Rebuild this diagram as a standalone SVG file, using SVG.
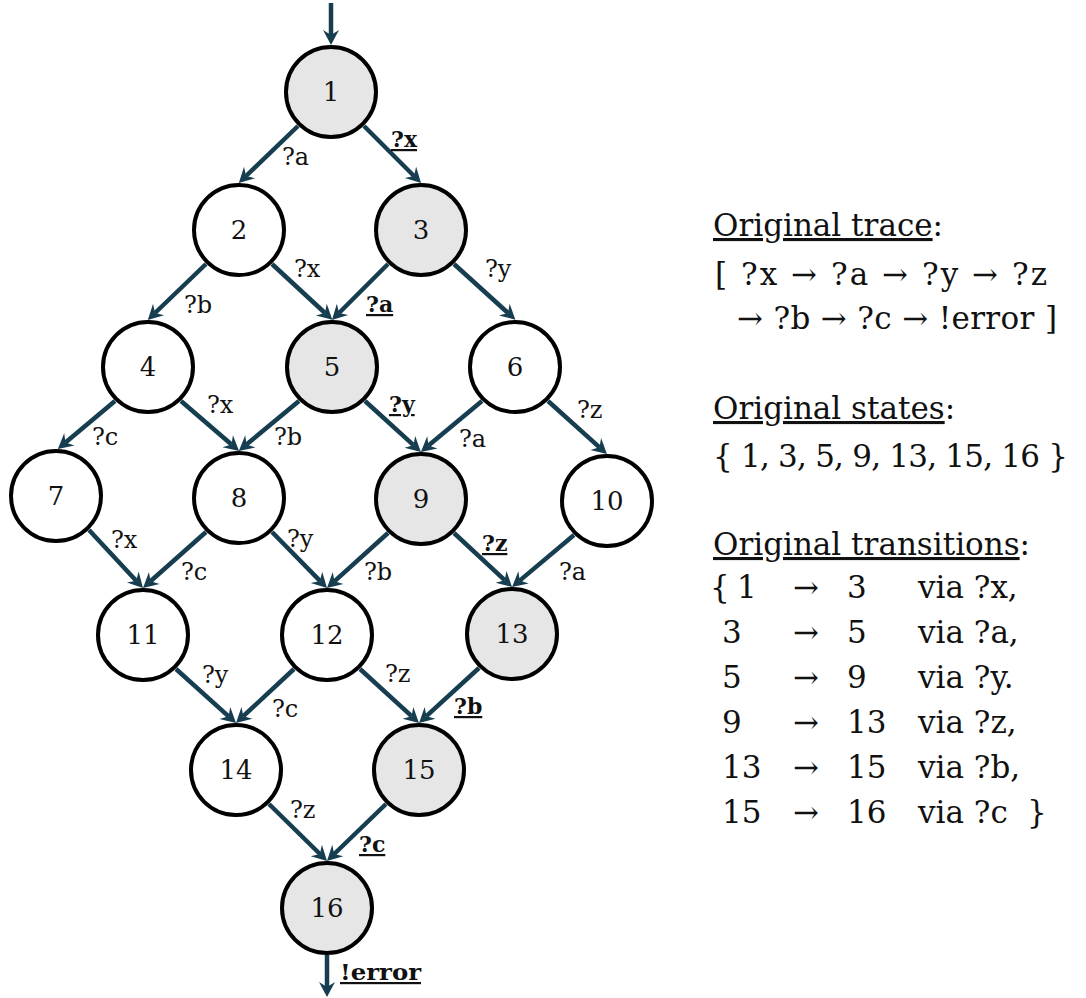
<svg xmlns="http://www.w3.org/2000/svg" width="1086" height="998" viewBox="0 0 1086 998">
<defs>
<marker id="ah" markerUnits="userSpaceOnUse" markerWidth="30" markerHeight="30" viewBox="-15 -15 30 30" refX="0" refY="0" orient="auto" overflow="visible">
<path d="M-5,-8 L10,0 L-5,8 L0,0 Z" fill="#173e50"/>
</marker>
<style>
.e{fill:none;stroke:#173e50;stroke-width:4.5;marker-end:url(#ah)}
.n circle{stroke:#000;stroke-width:4;fill:#fff}
.n.h circle{fill:#e6e6e6}
.n text{font-family:"DejaVu Serif","Liberation Serif",serif;font-size:26px;text-anchor:middle;fill:#111}
.l{font-family:"DejaVu Serif","Liberation Serif",serif;font-size:24px;fill:#111}
.lb{font-family:"DejaVu Serif","Liberation Serif",serif;font-size:22px;font-weight:bold;fill:#111;text-decoration:underline}
.r{font-family:"DejaVu Serif","Liberation Serif",serif;font-size:31px;fill:#111}
</style>
</defs>
<rect width="1086" height="998" fill="#fff"/>
<g id="connectors">
<path class="e" d="M331,3 L331,35"/>
<path class="e" d="M298,126 L246,176"/>
<path class="e" d="M364,126 L414,176"/>
<path class="e" d="M206,264 L155,313"/>
<path class="e" d="M272,264 L325,313"/>
<path class="e" d="M388,264 L339,313"/>
<path class="e" d="M454,264 L508,313"/>
<path class="e" d="M115,401 L65.5,442.5"/>
<path class="e" d="M181,401 L231.5,444.5"/>
<path class="e" d="M299,401 L246.5,444.5"/>
<path class="e" d="M365,401 L413.5,445.2"/>
<path class="e" d="M482,401 L428.5,445.5"/>
<path class="e" d="M548,401 L599.5,447.3"/>
<path class="e" d="M89,530 L136.2,580.7"/>
<path class="e" d="M206,532 L150.5,581.3"/>
<path class="e" d="M272,532 L320,580.9"/>
<path class="e" d="M388,533 L334.4,581.3"/>
<path class="e" d="M454,533 L504.7,580.2"/>
<path class="e" d="M574,535 L519.7,580.6"/>
<path class="e" d="M176,669 L228.6,716.3"/>
<path class="e" d="M294,669 L243.3,716.2"/>
<path class="e" d="M360,669 L411.6,716.2"/>
<path class="e" d="M479,668 L426.4,716.2"/>
<path class="e" d="M269,804 L319.9,854"/>
<path class="e" d="M386,804 L334.2,854"/>
<path class="e" d="M327,955 L327,987"/>
<text class="l" x="282" y="165">?a</text>
<text class="lb" x="391" y="147">?x</text>
<text class="l" x="184" y="313">?b</text>
<text class="l" x="294" y="277">?x</text>
<text class="lb" x="366" y="312">?a</text>
<text class="l" x="485" y="277">?y</text>
<text class="l" x="92" y="445">?c</text>
<text class="l" x="207" y="413">?x</text>
<text class="l" x="274" y="445">?b</text>
<text class="lb" x="389" y="412">?y</text>
<text class="l" x="459" y="447">?a</text>
<text class="l" x="577" y="418">?z</text>
<text class="l" x="111" y="548">?x</text>
<text class="l" x="181" y="580">?c</text>
<text class="l" x="287" y="547">?y</text>
<text class="l" x="364" y="580">?b</text>
<text class="lb" x="482" y="551">?z</text>
<text class="l" x="559" y="580">?a</text>
<text class="l" x="202" y="683">?y</text>
<text class="l" x="272" y="717">?c</text>
<text class="l" x="385" y="682">?z</text>
<text class="lb" x="454" y="714">?b</text>
<text class="l" x="290" y="818">?z</text>
<text class="lb" x="359" y="852">?c</text>
<text class="lb" x="340" y="980" textLength="81" lengthAdjust="spacingAndGlyphs">!error</text>
</g>
<g id="node1" class="n h"><circle cx="331" cy="92" r="45"/><text x="331" y="101">1</text></g>
<g id="node2" class="n"><circle cx="239" cy="230" r="45"/><text x="239" y="239">2</text></g>
<g id="node3" class="n h"><circle cx="421" cy="230" r="45"/><text x="421" y="239">3</text></g>
<g id="node4" class="n"><circle cx="148" cy="367" r="45"/><text x="148" y="376">4</text></g>
<g id="node5" class="n h"><circle cx="332" cy="367" r="45"/><text x="332" y="376">5</text></g>
<g id="node6" class="n"><circle cx="515" cy="367" r="45"/><text x="515" y="376">6</text></g>
<g id="node7" class="n"><circle cx="56" cy="496" r="45"/><text x="56" y="505">7</text></g>
<g id="node8" class="n"><circle cx="239" cy="498" r="45"/><text x="239" y="507">8</text></g>
<g id="node9" class="n h"><circle cx="421" cy="499" r="45"/><text x="421" y="508">9</text></g>
<g id="node10" class="n"><circle cx="607" cy="501" r="45"/><text x="607" y="510">10</text></g>
<g id="node11" class="n"><circle cx="143" cy="635" r="45"/><text x="143" y="644">11</text></g>
<g id="node12" class="n"><circle cx="327" cy="635" r="45"/><text x="327" y="644">12</text></g>
<g id="node13" class="n h"><circle cx="512" cy="634" r="45"/><text x="512" y="643">13</text></g>
<g id="node14" class="n"><circle cx="236" cy="770" r="45"/><text x="236" y="779">14</text></g>
<g id="node15" class="n h"><circle cx="419" cy="770" r="45"/><text x="419" y="779">15</text></g>
<g id="node16" class="n h"><circle cx="327" cy="908" r="45"/><text x="327" y="917">16</text></g>
<g id="trace">
<text class="r" x="713" y="236"><tspan text-decoration="underline">Original trace</tspan>:</text>
<text class="r" x="715" y="285" textLength="332" lengthAdjust="spacing">[ ?x → ?a → ?y → ?z</text>
<text class="r" x="737" y="329" textLength="320" lengthAdjust="spacing">→ ?b → ?c → !error ]</text>
</g>
<g id="states">
<text class="r" x="713" y="419"><tspan text-decoration="underline">Original states</tspan>:</text>
<text class="r" x="713" y="467" textLength="355" lengthAdjust="spacing">{ 1, 3, 5, 9, 13, 15, 16 }</text>
</g>
<g id="transitions">
<text class="r" x="713" y="555"><tspan text-decoration="underline">Original transitions</tspan>:</text>
<text class="r" x="710" y="598">{</text>
<text class="r" x="737" y="598">1</text>
<text class="r" x="722" y="643">3</text>
<text class="r" x="722" y="688">5</text>
<text class="r" x="722" y="733">9</text>
<text class="r" x="722" y="778">13</text>
<text class="r" x="722" y="823">15</text>
<text class="r" x="793" y="598">→</text>
<text class="r" x="793" y="643">→</text>
<text class="r" x="793" y="688">→</text>
<text class="r" x="793" y="733">→</text>
<text class="r" x="793" y="778">→</text>
<text class="r" x="793" y="823">→</text>
<text class="r" x="847" y="598">3</text>
<text class="r" x="847" y="643">5</text>
<text class="r" x="847" y="688">9</text>
<text class="r" x="847" y="733">13</text>
<text class="r" x="847" y="778">15</text>
<text class="r" x="847" y="823">16</text>
<text class="r" x="918" y="598">via ?x,</text>
<text class="r" x="918" y="643">via ?a,</text>
<text class="r" x="918" y="688">via ?y.</text>
<text class="r" x="918" y="733">via ?z,</text>
<text class="r" x="918" y="778">via ?b,</text>
<text class="r" x="918" y="823">via ?c</text>
<text class="r" x="1027" y="823">}</text>
</g>
</svg>
